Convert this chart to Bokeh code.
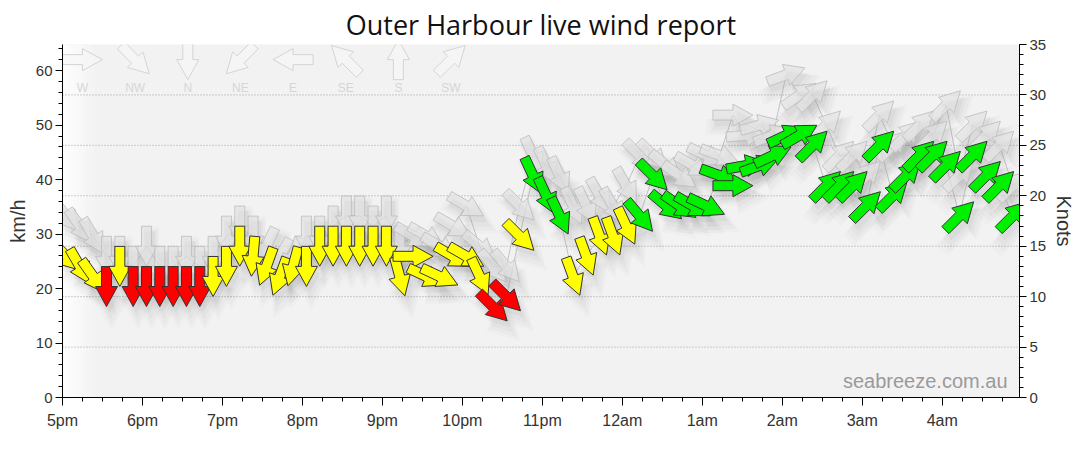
import math
from bokeh.plotting import figure
from bokeh.models import Range1d, LinearAxis, FixedTicker, Label
from bokeh.core.properties import value
from bokeh.embed import file_html
from bokeh.resources import INLINE

# ---------------- data (10-minute observations, minutes after 5pm) ----------------
minutes = [3, 13, 23, 33, 43, 53, 63, 73, 83, 93, 103, 113,
           123, 133, 143, 153, 163, 173, 183, 193, 203, 213, 223, 233,
           243, 253, 263, 273, 283, 293, 303, 313, 323, 333, 343, 353,
           363, 373, 383, 393, 403, 413, 423, 433, 443, 453, 463, 473,
           483, 493, 503, 513, 523, 533, 543, 553, 563, 573, 583, 593,
           603, 613, 623, 633, 643, 653, 663, 673, 683, 693, 703, 713]
avg_kn = [14, 13, 12, 11, 13, 11, 11, 11, 11, 11, 11, 12,
          13, 15, 14, 13, 12, 13, 13, 15, 15, 15, 15, 15,
          15, 12, 14, 12, 12, 14, 14, 12, 9, 10, 16, 22,
          20, 18, 12, 14, 16, 16, 17, 18, 22, 19, 19, 19,
          19, 22, 21, 23, 23, 24, 26, 26, 25, 21, 21, 21,
          19, 25, 20, 22, 24, 24, 23, 18, 24, 22, 21, 18]
avg_dir = [315, 330, 325, 0, 0, 0, 0, 0, 0, 0, 0, 0,
           0, 0, 5, 20, 20, 15, 0, 0, 0, 0, 0, 0,
           0, 345, 270, 295, 295, 300, 300, 335, 315, 315, 315, 335,
           335, 335, 340, 340, 340, 340, 335, 320, 315, 310, 305, 300,
           295, 290, 270, 260, 250, 245, 245, 240, 225, 225, 225, 225,
           225, 225, 225, 225, 225, 225, 225, 225, 225, 225, 225, 225]
gust_kn = [18, 17, 16, 14, 14, 13, 15, 13, 13, 14, 13, 14,
           16, 17, 16, 15, 14, 14, 16, 16, 17, 18, 18, 17,
           18, 15, 16, 16, 15, 17, 19, 15, 13, 13, 19, 24,
           23, 22, 19, 19, 20, 19, 21, 24, 24, 23, 22, 23,
           24, 24, 28, 26, 27, 26, 32, 30, 30, 27, 24, 24,
           22, 28, 25, 26, 27, 26, 29, 22, 27, 26, 25, 21]
gust_dir = [320, 325, 330, 0, 0, 0, 0, 0, 0, 0, 0, 0,
            0, 0, 0, 25, 30, 20, 0, 0, 0, 0, 0, 0,
            0, 0, 300, 300, 300, 300, 300, 310, 320, 320, 315, 335,
            335, 335, 335, 335, 330, 330, 330, 315, 315, 310, 305, 300,
            295, 290, 270, 265, 255, 250, 250, 235, 225, 225, 225, 225,
            225, 225, 225, 225, 225, 225, 225, 225, 225, 225, 225, 225]

hour_ticks = [0, 60, 120, 180, 240, 300, 360, 420, 480, 540, 600, 660]
hour_labels = ["5pm", "6pm", "7pm", "8pm", "9pm", "10pm", "11pm",
               "12am", "1am", "2am", "3am", "4am"]
kmh_ticks = [0, 10, 20, 30, 40, 50, 60]
knot_ticks = [0, 5, 10, 15, 20, 25, 30, 35]
knot_grid = [5, 10, 15, 20, 25, 30]
compass_labels = ["W", "NW", "N", "NE", "E", "SE", "S", "SW"]
compass_dirs = [270, 315, 0, 45, 90, 135, 180, 225]

# ---------------- geometry ----------------
FW, FH = 957, 353
X_MAX = 718.0
Y_MAX = 35.0
KMH = 1.852
SX = FW / X_MAX
SY = FH / Y_MAX
FONT = "Liberation Sans"
SHAPE = [(-20, -5), (0, -5), (0, -11), (20, 0), (0, 11), (0, 5), (-20, 5)]


def arrow(t, v, d, scale=1.0, off=(0.0, 0.0)):
    b = math.radians(d + 180.0)
    ex = (math.sin(b), math.cos(b))
    ey = (-math.cos(b), math.sin(b))
    xs, ys = [], []
    for u, w in SHAPE:
        u *= scale
        w *= scale
        X = u * ex[0] + w * ey[0] + off[0]
        Y = u * ex[1] + w * ey[1] + off[1]
        xs.append(t + X / SX)
        ys.append(v + Y / SY)
    return xs, ys


def colour(kn):
    if kn < 12:
        return "#ff0000"
    if kn < 18:
        return "#ffff00"
    return "#00f000"


p = figure(frame_width=FW, frame_height=FH,
           x_range=Range1d(0, X_MAX), y_range=Range1d(0, Y_MAX),
           output_backend="svg", toolbar_location=None, y_axis_location="right",
           background_fill_color="#f2f2f2", border_fill_color="white",
           outline_line_color=None, title="Outer Harbour live wind report")
p.margin = (2, 0, 0, 3)
p.extra_y_ranges = {"kmh": Range1d(0, Y_MAX * KMH)}

p.title.align = "center"
p.title.text_font = "Open Sans"
p.title.text_font_size = "27px"
p.title.text_font_style = "normal"
p.title.text_color = "#111111"
p.title.standoff = 3

p.xgrid.visible = False
p.ygrid.visible = False

# left fade of background
N = 24
for i in range(N):
    p.quad(left=i * 1.1, right=(i + 1) * 1.1, bottom=0, top=Y_MAX,
           fill_color="white", fill_alpha=1.0 - (i + 0.5) / N, line_color=None)

# dotted grid (knots)
p.segment(x0=[0] * len(knot_grid), x1=[X_MAX] * len(knot_grid), y0=knot_grid, y1=knot_grid,
          line_color="#a0a0a0", line_dash="1 2", line_width=1)

# compass legend
for i, (lab, d) in enumerate(zip(compass_labels, compass_dirs)):
    cx = 15 + 39.5 * i
    xs, ys = arrow(cx, 33.5, d)
    p.patch(xs, ys, fill_color="#f6f6f6", fill_alpha=0.6, line_color="#d4d4d4", line_width=1)
    p.text(x=[cx], y=[30.7], text=[lab], text_align="center", text_baseline="middle",
           text_font=value(FONT), text_font_size="12px", text_color="#d6d6d6")

# soft shadows
all_pts = list(zip(minutes, gust_kn, gust_dir)) + list(zip(minutes, avg_kn, avg_dir))
for sc, off, al in [(1.6, (5, -12), 0.016), (1.4, (5, -11), 0.02),
                    (1.2, (4, -9), 0.025), (1.05, (3, -6), 0.03)]:
    sxs, sys_ = [], []
    for t, v, d in all_pts:
        xs, ys = arrow(t, v, d, scale=sc, off=off)
        sxs.append(xs)
        sys_.append(ys)
    p.patches(sxs, sys_, fill_color="#000000", fill_alpha=al, line_color=None)

# thin series lines
p.line(minutes, gust_kn, line_color="#999999", line_alpha=0.55, line_width=1)
p.line(minutes, avg_kn, line_color="#999999", line_alpha=0.55, line_width=1)

# gust arrows
g_xs, g_ys = [], []
for t, v, d in zip(minutes, gust_kn, gust_dir):
    xs, ys = arrow(t, v, d)
    g_xs.append(xs)
    g_ys.append(ys)
p.patches(g_xs, g_ys, fill_color="#e2e2e2", fill_alpha=0.7,
          line_color="#bcbcbc", line_alpha=0.8, line_width=1)

# average arrows
a_xs, a_ys, a_col = [], [], []
for t, v, d in zip(minutes, avg_kn, avg_dir):
    xs, ys = arrow(t, v, d)
    a_xs.append(xs)
    a_ys.append(ys)
    a_col.append(colour(v))
p.patches(a_xs, a_ys, fill_color=a_col, line_color="#333333", line_width=1)

# watermark
p.add_layout(Label(x=709, y=0.5, text="seabreeze.com.au", text_align="right",
                   text_baseline="bottom", text_font=FONT, text_font_size="20px",
                   text_color="#9a9a9a"))

# axes
def style_axis(ax):
    ax.major_label_text_font = FONT
    ax.major_label_text_font_size = "15px"
    ax.major_label_text_color = "#333333"
    ax.axis_line_color = "#000000"
    ax.major_tick_line_color = "#000000"
    ax.minor_tick_line_color = "#000000"
    ax.major_tick_in = 0
    ax.minor_tick_in = 0
    ax.major_tick_out = 7
    ax.minor_tick_out = 4
    ax.axis_label_text_font = FONT
    ax.axis_label_text_font_size = "20px"
    ax.axis_label_text_font_style = "normal"
    ax.axis_label_text_color = "#333333"
    ax.major_label_standoff = 3
    ax.axis_label_standoff = 4

xa = p.xaxis[0]
style_axis(xa)
xa.ticker = FixedTicker(ticks=hour_ticks, minor_ticks=list(range(0, 719, 15)))
xa.major_label_overrides = {t: l for t, l in zip(hour_ticks, hour_labels)}
xa.major_label_text_font_size = "16px"
xa.major_tick_out = 8
xa.major_label_standoff = 6

ra = p.yaxis[0]
style_axis(ra)
ra.ticker = FixedTicker(ticks=knot_ticks, minor_ticks=list(range(0, 36)))
ra.axis_label = "Knots"

la = LinearAxis(y_range_name="kmh", axis_label="km/h",
                ticker=FixedTicker(ticks=kmh_ticks, minor_ticks=list(range(0, 66, 2))))
style_axis(la)
p.add_layout(la, "left")

open("out.html", "w").write(file_html(p, INLINE))
